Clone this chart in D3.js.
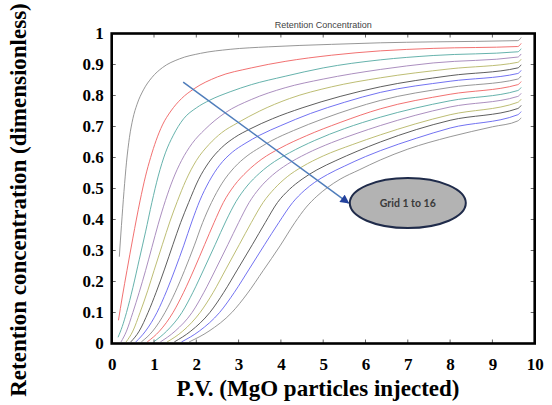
<!DOCTYPE html>
<html>
<head>
<meta charset="utf-8">
<script src="https://cdn.jsdelivr.net/npm/d3@7"></script>
<style>
  html, body { margin: 0; padding: 0; background: #fff; }
  svg { display: block; }
</style>
</head>
<body>
<svg id="chart" width="552" height="405"></svg>
<script>
// Retention concentration per grid block, as [P.V. injected, concentration]
const grid01 = [[0.18,0.28],[0.23,0.38],[0.29,0.49],[0.35,0.585],[0.42,0.665],[0.5,0.725],[0.6,0.772],[0.75,0.818],[0.95,0.858],[1.2,0.89],[1.6,0.918],[2.1,0.936],[2.8,0.949],[3.7,0.957],[5.2,0.965],[6.35,0.97],[7.6,0.973],[9.6,0.977],[9.68,0.987]];
const grid02 = [[0.16,0.075],[0.25,0.15],[0.36,0.235],[0.5,0.34],[0.67,0.46],[0.8,0.54],[0.92,0.6],[1.05,0.655],[1.2,0.705],[1.4,0.75],[1.65,0.79],[1.95,0.822],[2.5,0.86],[3.3,0.889],[4.1,0.91],[5.2,0.93],[6.35,0.944],[7.6,0.952],[9.6,0.958],[9.68,0.968]];
const grid03 = [[0.15,0.02],[0.25,0.055],[0.35,0.1],[0.5,0.18],[0.65,0.27],[0.8,0.36],[0.95,0.455],[1.1,0.54],[1.27,0.615],[1.45,0.67],[1.7,0.725],[2.0,0.76],[2.32,0.785],[2.8,0.812],[3.3,0.835],[4.1,0.862],[5.0,0.889],[6.35,0.915],[7.6,0.929],[9.6,0.941],[9.68,0.951]];
const grid04 = [[0.22,0.005],[0.35,0.04],[0.5,0.1],[0.65,0.165],[0.8,0.235],[0.95,0.31],[1.1,0.385],[1.27,0.461],[1.45,0.53],[1.65,0.59],[1.9,0.645],[2.2,0.69],[2.68,0.744],[3.3,0.787],[4.1,0.825],[5.0,0.853],[6.35,0.884],[7.6,0.905],[9.6,0.924],[9.68,0.934]];
const grid05 = [[0.34,0.005],[0.5,0.04],[0.67,0.1],[0.85,0.17],[1.0,0.235],[1.2,0.32],[1.38,0.395],[1.55,0.458],[1.75,0.525],[2.0,0.59],[2.3,0.642],[2.6,0.68],[2.98,0.712],[3.5,0.75],[4.2,0.79],[5.2,0.828],[6.35,0.857],[8.0,0.886],[9.6,0.907],[9.68,0.917]];
const grid06 = [[0.45,0.005],[0.65,0.04],[0.86,0.1],[1.05,0.165],[1.25,0.24],[1.45,0.32],[1.63,0.39],[1.82,0.455],[2.05,0.528],[2.3,0.585],[2.6,0.632],[2.9,0.664],[3.27,0.692],[3.8,0.725],[4.5,0.76],[5.4,0.797],[6.35,0.828],[8.0,0.864],[9.6,0.889],[9.68,0.899]];
const grid07 = [[0.57,0.005],[0.8,0.04],[1.07,0.1],[1.3,0.17],[1.5,0.24],[1.7,0.315],[1.9,0.395],[2.08,0.46],[2.3,0.522],[2.55,0.575],[2.85,0.617],[3.15,0.645],[3.5,0.672],[4.0,0.703],[4.7,0.742],[5.5,0.778],[6.35,0.81],[8.0,0.846],[9.6,0.871],[9.68,0.881]];
const grid08 = [[0.7,0.005],[0.97,0.04],[1.26,0.1],[1.5,0.165],[1.72,0.235],[1.95,0.315],[2.15,0.39],[2.36,0.455],[2.6,0.515],[2.9,0.568],[3.2,0.605],[3.5,0.632],[3.79,0.655],[4.3,0.687],[5.0,0.725],[5.7,0.758],[6.35,0.784],[8.0,0.826],[9.6,0.853],[9.68,0.863]];
const grid09 = [[0.84,0.005],[1.13,0.04],[1.45,0.1],[1.7,0.165],[1.95,0.24],[2.2,0.32],[2.42,0.39],[2.64,0.455],[2.9,0.51],[3.2,0.555],[3.55,0.595],[3.98,0.63],[4.6,0.67],[5.4,0.713],[6.35,0.757],[8.0,0.804],[9.6,0.835],[9.68,0.845]];
const grid10 = [[0.99,0.005],[1.3,0.04],[1.66,0.1],[1.92,0.165],[2.18,0.24],[2.45,0.32],[2.7,0.395],[2.94,0.458],[3.2,0.508],[3.5,0.55],[3.85,0.587],[4.2,0.615],[4.8,0.655],[5.5,0.693],[6.35,0.73],[8.0,0.783],[9.6,0.816],[9.68,0.826]];
const grid11 = [[1.15,0.005],[1.5,0.04],[1.9,0.1],[2.18,0.165],[2.46,0.24],[2.75,0.32],[3.0,0.39],[3.25,0.455],[3.5,0.502],[3.8,0.543],[4.15,0.578],[4.6,0.612],[5.2,0.648],[5.8,0.678],[6.35,0.703],[8.0,0.763],[9.6,0.797],[9.68,0.807]];
const grid12 = [[1.31,0.005],[1.68,0.04],[2.09,0.1],[2.4,0.165],[2.7,0.24],[3.02,0.32],[3.3,0.39],[3.58,0.455],[3.85,0.5],[4.15,0.538],[4.5,0.57],[5.0,0.605],[5.7,0.642],[6.35,0.673],[8.0,0.738],[9.6,0.778],[9.68,0.788]];
const grid13 = [[1.48,0.005],[1.87,0.04],[2.32,0.1],[2.65,0.165],[2.98,0.24],[3.33,0.32],[3.63,0.39],[3.92,0.455],[4.2,0.497],[4.5,0.53],[4.85,0.56],[5.3,0.59],[5.8,0.62],[6.35,0.65],[7.2,0.69],[8.0,0.72],[9.6,0.758],[9.68,0.768]];
const grid14 = [[1.65,0.005],[2.07,0.04],[2.55,0.1],[2.9,0.165],[3.25,0.24],[3.62,0.32],[3.95,0.39],[4.28,0.455],[4.55,0.493],[4.8,0.52],[5.1,0.545],[5.5,0.572],[6.0,0.603],[6.35,0.622],[7.2,0.662],[8.0,0.695],[9.6,0.738],[9.68,0.748]];
const grid15 = [[1.83,0.005],[2.3,0.04],[2.84,0.1],[3.2,0.16],[3.58,0.235],[3.98,0.315],[4.33,0.39],[4.6,0.44],[4.85,0.475],[5.1,0.503],[5.4,0.53],[5.85,0.56],[6.35,0.592],[7.0,0.627],[8.0,0.667],[9.0,0.699],[9.6,0.718],[9.68,0.728]];

const gridSeries = [grid01, grid02, grid03, grid04, grid05, grid06, grid07, grid08,
                    grid09, grid10, grid11, grid12, grid13, grid14, grid15];

// Line colour cycle (gray, red, cyan, magenta, yellow, black, blue)
const gridColors = ["#8c8c8c", "#f06262", "#55aaa3", "#a283b8", "#b6b665", "#4d4d4d", "#6363ef"];

const xTickValues = [0, 1, 2, 3, 4, 5, 6, 7, 8, 9, 10];
const yTickValues = [0, 0.1, 0.2, 0.3, 0.4, 0.5, 0.6, 0.7, 0.8, 0.9, 1];
const yTickLabels = ["0", "0.1", "0.2", "0.3", "0.4", "0.5", "0.6", "0.7", "0.8", "0.9", "1"];

const chartTitle = "Retention Concentration";
const xTitle = "P.V. (MgO particles injected)";
const yTitle = "Retention concentration (dimensionless)";
const calloutText = "Grid 1 to 16";

// Callout arrow (P.V., concentration) and bubble centre
const arrowStart = [1.69, 0.843];
const arrowEnd = [5.6, 0.453];
const calloutCenter = [7.0, 0.453];

const svg = d3.select("#chart");
const plotLeft = 111.7, plotTop = 33.5, plotRight = 534.7, plotBottom = 343.5;

const x = d3.scaleLinear().domain([0, 10]).range([plotLeft, plotRight]);
const y = d3.scaleLinear().domain([0, 1]).range([plotBottom, plotTop]);

const serif = "'Liberation Serif', 'Times New Roman', serif";

// Curves
const line = d3.line()
  .x(d => x(d[0]))
  .y(d => y(d[1]))
  .curve(d3.curveMonotoneX);

svg.append("g")
  .selectAll("path")
  .data(gridSeries)
  .join("path")
  .attr("d", line)
  .attr("fill", "none")
  .attr("stroke", (d, i) => gridColors[i % gridColors.length])
  .attr("stroke-width", 1)
  .attr("stroke-opacity", 0.9);

// Inner tick marks on all four sides of the frame
const tickG = svg.append("g").attr("stroke", "#666").attr("stroke-width", 1);
const innerX = xTickValues.slice(1, -1);
const innerY = yTickValues.slice(1, -1);
tickG.selectAll(".tt").data(innerX).join("line")
  .attr("x1", d => x(d)).attr("x2", d => x(d))
  .attr("y1", plotTop).attr("y2", plotTop + 4);
tickG.selectAll(".tb").data(innerX).join("line")
  .attr("x1", d => x(d)).attr("x2", d => x(d))
  .attr("y1", plotBottom).attr("y2", plotBottom - 4);
tickG.selectAll(".tl").data(innerY).join("line")
  .attr("x1", plotLeft).attr("x2", plotLeft + 4)
  .attr("y1", d => y(d)).attr("y2", d => y(d));
tickG.selectAll(".tr").data(innerY).join("line")
  .attr("x1", plotRight).attr("x2", plotRight - 4)
  .attr("y1", d => y(d)).attr("y2", d => y(d));

// Frame
svg.append("rect")
  .attr("x", plotLeft).attr("y", plotTop)
  .attr("width", plotRight - plotLeft).attr("height", plotBottom - plotTop)
  .attr("fill", "none").attr("stroke", "#000").attr("stroke-width", 2.6);

// Axes (labels only)
const xAxis = d3.axisBottom(x).tickValues(xTickValues).tickSize(0).tickPadding(14)
  .tickFormat(d3.format("d"));
const gx = svg.append("g").attr("transform", `translate(0,${plotBottom})`).call(xAxis);
gx.select(".domain").remove();
gx.selectAll("text")
  .attr("font-family", serif).attr("font-weight", "bold")
  .attr("font-size", 17).attr("fill", "#000");

const yAxis = d3.axisLeft(y).tickValues(yTickValues).tickSize(0).tickPadding(8)
  .tickFormat((d, i) => yTickLabels[i]);
const gy = svg.append("g").attr("transform", `translate(${plotLeft},0)`).call(yAxis);
gy.select(".domain").remove();
gy.selectAll("text")
  .attr("font-family", serif).attr("font-weight", "bold")
  .attr("font-size", 17).attr("fill", "#000");

// Titles
svg.append("text")
  .attr("x", (plotLeft + plotRight) / 2).attr("y", 28)
  .attr("text-anchor", "middle")
  .attr("font-family", "'Liberation Sans', Arial, sans-serif")
  .attr("font-size", 9).attr("fill", "#444")
  .text(chartTitle);

svg.append("text")
  .attr("x", 318).attr("y", 396)
  .attr("text-anchor", "middle")
  .attr("font-family", serif).attr("font-weight", "bold")
  .attr("font-size", 23).attr("fill", "#000")
  .text(xTitle);

svg.append("text")
  .attr("transform", "translate(26,200) rotate(-90)")
  .attr("text-anchor", "middle")
  .attr("font-family", serif).attr("font-weight", "bold")
  .attr("font-size", 23).attr("fill", "#000")
  .text(yTitle);

// Callout arrow
const defs = svg.append("defs");
defs.append("marker")
  .attr("id", "head")
  .attr("viewBox", "0 0 10 10")
  .attr("refX", 9).attr("refY", 5)
  .attr("markerWidth", 7).attr("markerHeight", 6)
  .attr("markerUnits", "strokeWidth")
  .attr("orient", "auto")
  .append("path")
  .attr("d", "M0,0 L10,5 L0,10 Z")
  .attr("fill", "#23419c");

svg.append("line")
  .attr("x1", x(arrowStart[0])).attr("y1", y(arrowStart[1]))
  .attr("x2", x(arrowEnd[0])).attr("y2", y(arrowEnd[1]))
  .attr("stroke", "#4f7dbb").attr("stroke-width", 1.5)
  .attr("marker-end", "url(#head)");

// Callout bubble
svg.append("ellipse")
  .attr("cx", x(calloutCenter[0])).attr("cy", y(calloutCenter[1]))
  .attr("rx", 58).attr("ry", 25)
  .attr("fill", "#b3b3b3").attr("stroke", "#1f2b4a").attr("stroke-width", 2);

svg.append("text")
  .attr("x", x(calloutCenter[0])).attr("y", y(calloutCenter[1]) + 4)
  .attr("text-anchor", "middle")
  .attr("font-family", "Lato, 'Open Sans', sans-serif").attr("font-weight", "bold")
  .attr("font-size", 10.5).attr("fill", "#3a3a3a")
  .text(calloutText);
</script>
</body>
</html>
